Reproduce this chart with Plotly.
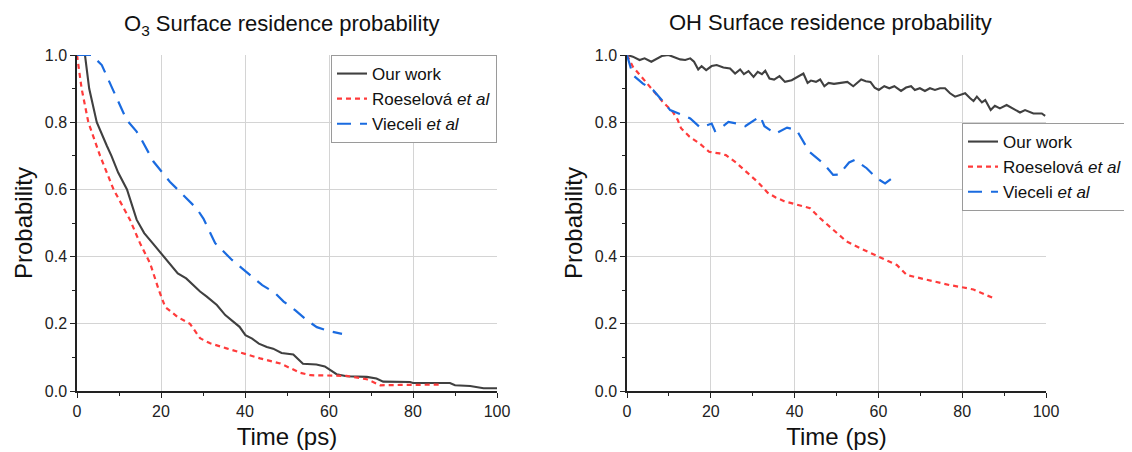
import plotly.graph_objects as go

# ---------------- data ----------------
# Left panel: O3
o3_our_x = [0, 1.9, 2.9, 4.7, 7.1, 8.2, 9.8, 11.9, 14.2, 16, 18, 20, 22, 24, 26, 28, 29.3, 30.9, 33.3,
            35.3, 37.3, 38.7, 40.1, 41.7, 43.3, 45.2, 46.7, 48.7, 51.5, 53.8, 57, 59, 61.8, 64.2, 69,
            71.3, 72.9, 79.3, 80, 88.8, 90, 93.6, 96.8, 100]
o3_our_y = [1.0, 1.0, 0.9, 0.8, 0.73, 0.7, 0.65, 0.6, 0.51, 0.47, 0.44, 0.41, 0.38, 0.35, 0.335, 0.31,
            0.296, 0.281, 0.256, 0.226, 0.206, 0.191, 0.166, 0.156, 0.141, 0.131, 0.126, 0.113, 0.109,
            0.081, 0.079, 0.073, 0.050, 0.044, 0.042, 0.037, 0.028, 0.027, 0.024, 0.024, 0.017, 0.015,
            0.008, 0.008]

o3_roe_x = [0, 1.1, 2.7, 5.5, 8.7, 12.6, 15, 17.4, 19.5, 21, 24, 26.9, 29.3, 31.7, 35.6, 40.1, 43.6,
            48.4, 50.8, 53.2, 55.6, 61.1, 64.2, 69, 72.2, 77, 86.5]
o3_roe_y = [1.0, 0.9, 0.8, 0.7, 0.6, 0.51, 0.44, 0.38, 0.3, 0.25, 0.22, 0.2, 0.157, 0.142, 0.127, 0.109,
            0.097, 0.082, 0.067, 0.054, 0.047, 0.047, 0.045, 0.035, 0.017, 0.018, 0.019]

o3_vie_x = [0, 3.5, 5.9, 9.4, 11.8, 14.2, 15.4, 18.2, 20.6, 22.1, 24.5, 26.1, 28.5, 30.1, 32.9, 34.9,
            36.9, 39.3, 41.7, 44.1, 46.1, 47.3, 49.2, 52, 54.8, 57.1, 59.5, 63.1]
o3_vie_y = [1.0, 1.0, 0.97, 0.871, 0.807, 0.772, 0.747, 0.683, 0.648, 0.623, 0.593, 0.573, 0.543, 0.513,
            0.44, 0.415, 0.39, 0.365, 0.34, 0.315, 0.30, 0.29, 0.266, 0.24, 0.21, 0.19, 0.18, 0.17]

# Right panel: OH
oh_our_x = [0, 1.4, 3, 4.2, 5.8, 7.1, 8.3, 9.9, 11.1, 12.7, 13.9, 15.1, 16, 17, 17.8, 18.9, 20.2, 21.4,
            23, 24.6, 25.8, 27, 27.9, 29, 30.2, 31.2, 32.2, 33, 34, 35.1, 36.4, 37.7, 39.3, 40.9, 42.1,
            43.1, 43.9, 45.1, 46.1, 47.1, 48.1, 49.4, 51, 52.6, 54, 55, 55.9, 57, 58.1, 59.1, 60.1,
            61.4, 62.6, 63.8, 65.4, 66.6, 67.8, 68.7, 69.9, 71.1, 72.3, 73.5, 74.7, 75.9, 77.1, 78.3,
            79.5, 80.7, 81.9, 82.7, 83.5, 84.7, 85.5, 86.8, 87.8, 89, 90.6, 92.2, 93.8, 95, 97, 99, 99.8]
oh_our_y = [1.0, 0.995, 0.985, 0.99, 0.98, 0.99, 0.997, 1.0, 0.995, 0.987, 0.985, 0.99, 0.98, 0.957,
            0.967, 0.955, 0.967, 0.97, 0.963, 0.96, 0.945, 0.957, 0.943, 0.952, 0.935, 0.95, 0.943,
            0.953, 0.93, 0.927, 0.937, 0.92, 0.925, 0.935, 0.945, 0.917, 0.924, 0.92, 0.927, 0.907,
            0.917, 0.914, 0.917, 0.92, 0.907, 0.917, 0.927, 0.922, 0.92, 0.903, 0.896, 0.907, 0.901,
            0.907, 0.893, 0.903, 0.907, 0.896, 0.901, 0.893, 0.901, 0.896, 0.901, 0.901, 0.886, 0.876,
            0.881, 0.886, 0.871, 0.863, 0.876, 0.859, 0.866, 0.836, 0.849, 0.841, 0.851, 0.841, 0.829,
            0.836, 0.826, 0.826, 0.819]

oh_roe_x = [0, 1.4, 3.8, 6.2, 8.5, 10.9, 12.1, 12.9, 14.9, 17.3, 19.6, 22.1, 23.6, 26, 28.6, 31.2,
            33.6, 35.5, 37.5, 40.5, 43.7, 46.1, 49.2, 52.4, 55.6, 59.6, 62, 64.4, 66.8, 70, 73.9, 77.1,
            80.3, 82.7, 85.8, 87.8]
oh_roe_y = [1.0, 0.965, 0.93, 0.896, 0.861, 0.831, 0.807, 0.782, 0.757, 0.737, 0.712, 0.707, 0.702,
            0.68, 0.652, 0.622, 0.59, 0.576, 0.565, 0.554, 0.544, 0.514, 0.479, 0.445, 0.425, 0.402,
            0.39, 0.375, 0.345, 0.335, 0.325, 0.315, 0.308, 0.302, 0.285, 0.275]

oh_vie_x = [0, 0.7, 1.4, 3.8, 6.2, 8.3, 10.3, 12.7, 15.1, 17.5, 19.4, 20.2, 21, 22.2, 24.2, 26.2,
            28.2, 29.8, 31.8, 32.8, 35.4, 38.2, 40.5, 43.5, 46.9, 49.2, 50.6, 53, 54.4, 57.2, 59.6,
            61.6, 64]
oh_vie_y = [1.0, 0.97, 0.94, 0.915, 0.896, 0.866, 0.836, 0.824, 0.811, 0.784, 0.791, 0.796, 0.774,
            0.781, 0.801, 0.796, 0.788, 0.801, 0.818, 0.788, 0.766, 0.784, 0.776, 0.712, 0.677, 0.643,
            0.644, 0.68, 0.688, 0.663, 0.633, 0.618, 0.64]

series_names = ["Our work", "Roeselová <i>et al</i>", "Vieceli <i>et al</i>"]
panel_titles = ["O<sub>3</sub> Surface residence probability", "OH Surface residence probability"]
x_title = "Time (ps)"
y_title = "Probability"

# ---------------- styling ----------------
# page has an 8px body margin, so the figure is drawn 8px in from the window edge
OFF = 8
W, H = 1132 - OFF, 452 - OFF
FONT = "Liberation Sans, Arial, sans-serif"
C_BLACK = "#404040"
C_RED = "#ff3b3b"
C_BLUE = "#1a6be0"
styles = [
    dict(color=C_BLACK, width=2.1, dash="solid"),
    dict(color=C_RED, width=2.2, dash="5px,4px"),
    dict(color=C_BLUE, width=2.2, dash="14px,9px"),
]

# plot area boxes in screen pixels
left_px = (77, 497)
right_px = (627, 1046)
top_px, bot_px = 55, 391

def px_x(s):
    return (s - OFF) / W

def px_y(s):
    return 1 - (s - OFF) / H

def xd(px):
    return [px_x(px[0]), px_x(px[1])]

ydom = [px_y(bot_px), px_y(top_px)]

fig = go.Figure()

panels = [
    ("x", "y", [(o3_our_x, o3_our_y), (o3_roe_x, o3_roe_y), (o3_vie_x, o3_vie_y)], "legend"),
    ("x2", "y2", [(oh_our_x, oh_our_y), (oh_roe_x, oh_roe_y), (oh_vie_x, oh_vie_y)], "legend2"),
]
for xa, ya, data, leg in panels:
    for (xs, ys), name, st in zip(data, series_names, styles):
        fig.add_trace(go.Scatter(x=xs, y=ys, mode="lines", name=name, line=st,
                                 xaxis=xa, yaxis=ya, legend=leg, hoverinfo="skip"))

axis_common = dict(
    automargin=False,
    showline=True, linecolor="#222", linewidth=1.5,
    ticks="outside", ticklen=5, tickwidth=1.2, tickcolor="#222",
    showgrid=True, gridcolor="#d4d4d4", gridwidth=1,
    zeroline=False, mirror=False,
    tickfont=dict(family=FONT, size=16, color="#222"),
)
xaxis_cfg = dict(axis_common, range=[0, 100], dtick=20, tick0=0,
                 minor=dict(dtick=10, ticks="outside", ticklen=3, tickcolor="#222", showgrid=False),
                 title=dict(text=x_title, font=dict(family=FONT, size=24, color="#111"), standoff=9))
yaxis_cfg = dict(axis_common, range=[0, 1.0], dtick=0.2, tick0=0, tickformat=".1f",
                 minor=dict(dtick=0.1, ticks="outside", ticklen=3, tickcolor="#222", showgrid=False),
                 title=dict(text=y_title, font=dict(family=FONT, size=24, color="#111"), standoff=5))

legend_common = dict(
    bgcolor="white", bordercolor="#9a9a9a", borderwidth=1,
    font=dict(family=FONT, size=17, color="#111"),
    tracegroupgap=0, itemwidth=30, yanchor="top",
)

fig.update_layout(
    template="plotly_white",
    width=W, height=H,
    margin=dict(l=0, r=0, t=0, b=0, autoexpand=False),
    paper_bgcolor="white", plot_bgcolor="white",
    font=dict(family=FONT, color="#111"),
    xaxis=dict(xaxis_cfg, domain=xd(left_px), anchor="y"),
    yaxis=dict(yaxis_cfg, domain=ydom, anchor="x"),
    xaxis2=dict(xaxis_cfg, domain=xd(right_px), anchor="y2"),
    yaxis2=dict(yaxis_cfg, domain=ydom, anchor="x2"),
    legend=dict(legend_common, x=px_x(497), xanchor="right", y=px_y(55)),
    legend2=dict(legend_common, x=px_x(962), xanchor="left", y=px_y(123)),
    showlegend=True,
    annotations=[
        dict(text=panel_titles[0], x=px_x(282), y=px_y(25), xref="paper", yref="paper",
             xanchor="center", yanchor="middle", showarrow=False,
             font=dict(family=FONT, size=22, color="#111")),
        dict(text=panel_titles[1], x=px_x(831), y=px_y(22), xref="paper", yref="paper",
             xanchor="center", yanchor="middle", showarrow=False,
             font=dict(family=FONT, size=22, color="#111")),
    ],
)

fig.write_html("out.html")
